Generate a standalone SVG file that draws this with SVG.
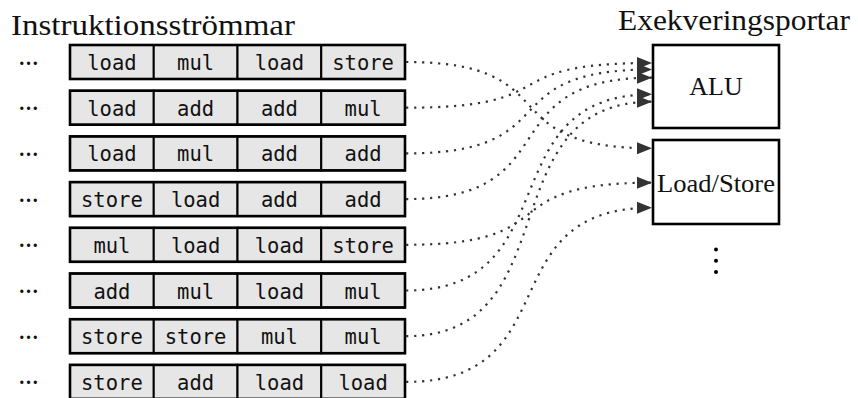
<svg xmlns="http://www.w3.org/2000/svg" width="858" height="398" viewBox="0 0 858 398">
<style>
.title{font-family:"Liberation Serif",serif;font-size:30px;fill:#111}
.cell{fill:#e6e6e6;stroke:#000;stroke-width:2}
.rowbox{fill:none;stroke:#000;stroke-width:2.6}
.ct{font-family:"DejaVu Sans Mono",monospace;font-size:20.5px;fill:#111;text-anchor:middle}
.ell{font-family:"Liberation Serif",serif;font-size:20px;font-weight:bold;fill:#111}
.port{fill:#fff;stroke:#000;stroke-width:2.6}
.pt{font-family:"Liberation Serif",serif;font-size:26px;fill:#111;text-anchor:middle}
.conn{fill:none;stroke:#333;stroke-width:2.2;stroke-dasharray:2.2 5.8}
</style>
<defs>
<marker id="arr" markerUnits="userSpaceOnUse" markerWidth="16" markerHeight="13" refX="15" refY="6" orient="auto" viewBox="0 0 16 12">
<path d="M0,0 L15,6 L0,12 z" fill="#333"/>
</marker>
<g id="cells">
<rect class="cell" x="70" y="0" width="83.75" height="34"/>
<rect class="cell" x="153.75" y="0" width="83.75" height="34"/>
<rect class="cell" x="237.5" y="0" width="83.75" height="34"/>
<rect class="cell" x="321.25" y="0" width="83.75" height="34"/>
<rect class="rowbox" x="70" y="0" width="335" height="34"/>
</g>
</defs>

<text class="title" x="11" y="35" textLength="284" lengthAdjust="spacingAndGlyphs">Instruktionsströmmar</text>
<text class="title" x="618" y="30" textLength="232" lengthAdjust="spacingAndGlyphs">Exekveringsportar</text>

<g id="row1" transform="translate(0,45)">
<text class="ell" x="18.5" y="19.5">…</text>
<use href="#cells"/>
<text class="ct" x="111.9" y="25">load</text><text class="ct" x="195.6" y="25">mul</text><text class="ct" x="279.4" y="25">load</text><text class="ct" x="363.1" y="25">store</text>
</g>
<g id="row2" transform="translate(0,90.7)">
<text class="ell" x="18.5" y="19.5">…</text>
<use href="#cells"/>
<text class="ct" x="111.9" y="25">load</text><text class="ct" x="195.6" y="25">add</text><text class="ct" x="279.4" y="25">add</text><text class="ct" x="363.1" y="25">mul</text>
</g>
<g id="row3" transform="translate(0,136.4)">
<text class="ell" x="18.5" y="19.5">…</text>
<use href="#cells"/>
<text class="ct" x="111.9" y="25">load</text><text class="ct" x="195.6" y="25">mul</text><text class="ct" x="279.4" y="25">add</text><text class="ct" x="363.1" y="25">add</text>
</g>
<g id="row4" transform="translate(0,182.1)">
<text class="ell" x="18.5" y="19.5">…</text>
<use href="#cells"/>
<text class="ct" x="111.9" y="25">store</text><text class="ct" x="195.6" y="25">load</text><text class="ct" x="279.4" y="25">add</text><text class="ct" x="363.1" y="25">add</text>
</g>
<g id="row5" transform="translate(0,227.8)">
<text class="ell" x="18.5" y="19.5">…</text>
<use href="#cells"/>
<text class="ct" x="111.9" y="25">mul</text><text class="ct" x="195.6" y="25">load</text><text class="ct" x="279.4" y="25">load</text><text class="ct" x="363.1" y="25">store</text>
</g>
<g id="row6" transform="translate(0,273.5)">
<text class="ell" x="18.5" y="19.5">…</text>
<use href="#cells"/>
<text class="ct" x="111.9" y="25">add</text><text class="ct" x="195.6" y="25">mul</text><text class="ct" x="279.4" y="25">load</text><text class="ct" x="363.1" y="25">mul</text>
</g>
<g id="row7" transform="translate(0,319.2)">
<text class="ell" x="18.5" y="19.5">…</text>
<use href="#cells"/>
<text class="ct" x="111.9" y="25">store</text><text class="ct" x="195.6" y="25">store</text><text class="ct" x="279.4" y="25">mul</text><text class="ct" x="363.1" y="25">mul</text>
</g>
<g id="row8" transform="translate(0,364.9)">
<text class="ell" x="18.5" y="19.5">…</text>
<use href="#cells"/>
<text class="ct" x="111.9" y="25">store</text><text class="ct" x="195.6" y="25">add</text><text class="ct" x="279.4" y="25">load</text><text class="ct" x="363.1" y="25">load</text>
</g>

<g id="alu">
<rect class="port" x="653" y="45" width="126" height="83"/>
<text class="pt" x="716" y="95">ALU</text>
</g>
<g id="loadstore">
<rect class="port" x="653" y="140" width="126" height="84"/>
<text class="pt" x="716" y="192" textLength="118" lengthAdjust="spacingAndGlyphs">Load/Store</text>
</g>
<g id="more" fill="#000">
<circle cx="716" cy="249.5" r="2"/>
<circle cx="716" cy="260.8" r="2"/>
<circle cx="716" cy="272" r="2"/>
</g>

<g id="connectors">
<path class="conn" marker-end="url(#arr)" d="M406,62 C571,62 487,148.3 652,148.3"/>
<path class="conn" marker-end="url(#arr)" d="M406,107.7 C571,107.7 487,63 652,63"/>
<path class="conn" marker-end="url(#arr)" d="M406,153.4 C571,153.4 487,69.5 652,69.5"/>
<path class="conn" marker-end="url(#arr)" d="M406,199.1 C571,199.1 487,77.7 652,77.7"/>
<path class="conn" marker-end="url(#arr)" d="M406,244.8 C571,244.8 487,182.7 652,182.7"/>
<path class="conn" marker-end="url(#arr)" d="M406,290.5 C571,290.5 487,94.3 652,94.3"/>
<path class="conn" marker-end="url(#arr)" d="M406,336.2 C571,336.2 487,101.7 652,101.7"/>
<path class="conn" marker-end="url(#arr)" d="M406,381.9 C571,381.9 487,207.7 652,207.7"/>
</g>
</svg>
